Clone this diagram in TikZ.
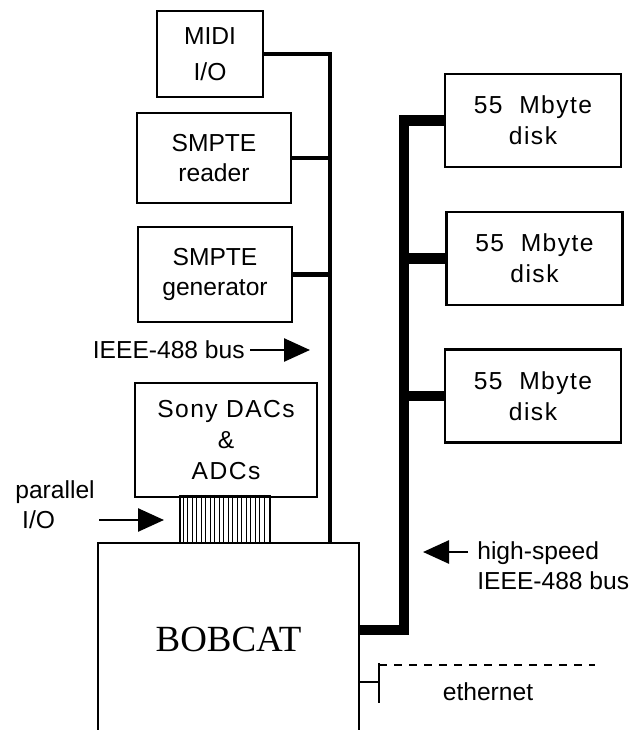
\documentclass[tikz,border=0pt]{standalone}
\usepackage{fontspec}
\setmainfont{Liberation Sans}
\newfontfamily\widesans[LetterSpace=6]{Liberation Sans}
\newfontfamily\timesfont{Liberation Serif}
\usetikzlibrary{positioning, arrows.meta, calc}

\begin{document}
\begin{tikzpicture}[
    box/.style={draw, line width=1.3pt, align=center, inner sep=0pt,
      font=\fontsize{14}{17}\selectfont},
    widebox/.style={box, font=\widesans\fontsize{14}{17.6}\selectfont},
    disk/.style={widebox, minimum width=3.52cm, minimum height=1.86cm},
    bus/.style={line width=2.3pt},
    fastbus/.style={line width=6.2pt},
    stripe/.style={line width=0.5pt},
    pointer/.style={-{Triangle[length=0.52cm, width=0.46cm]}, line width=1.5pt},
    lbl/.style={font=\fontsize{14}{17}\selectfont, align=left, inner sep=0pt}]
  \useasboundingbox (0,0) rectangle (12.68,-14.6);

  % devices on the IEEE-488 bus
  \node[box, minimum width=2.12cm, minimum height=1.72cm] (midi) at (4.2,-1.08) {MIDI\\[0.12cm]I/O};
  \node[box, minimum width=3.08cm, minimum height=1.8cm] (reader) at (4.28,-3.16) {SMPTE\\reader};
  \node[box, minimum width=3.08cm, minimum height=1.9cm] (generator) at (4.3,-5.49) {SMPTE\\generator};
  \node[widebox, minimum width=3.64cm, minimum height=2.28cm] (sony) at (4.52,-8.8) {Sony\ DACs\\\&\\ADCs};

  % the computer, cut off at the bottom
  \coordinate (bob-sw) at (1.96,-14.6);
  \coordinate (bob-ne) at (7.18,-10.86);
  \coordinate (bob-se) at (7.18,-14.6);
  \draw[line width=1.3pt] (bob-sw) |- (bob-ne) -- (bob-se);
  \node[font=\timesfont\fontsize{21}{24}\selectfont] (bobcat) at (4.57,-12.78) {BOBCAT};

  % ribbon cable
  \node[draw, line width=1.3pt, minimum width=1.8cm, minimum height=0.94cm,
        inner sep=0pt] (cable) at (4.5,-10.39) {};
  \foreach \i in {1,...,19}
    \draw[stripe] ($(cable.north west)+(\i*0.09,0)$) -- ($(cable.south west)+(\i*0.09,0)$);

  % disks
  \node[disk] (disk1) at (10.66,-2.41) {55\ \ Mbyte\\disk};
  \node[disk] (disk2) at (10.69,-5.17) {55\ \ Mbyte\\disk};
  \node[disk] (disk3) at (10.66,-7.92) {55\ \ Mbyte\\disk};

  % IEEE-488 bus
  \coordinate (busend) at (6.6,-10.86);
  \draw[bus] (midi.east) -| (busend);
  \draw[bus] (reader.east) -- (reader.east -| busend);
  \draw[bus] (generator.east) -- (generator.east -| busend);

  % high-speed bus
  \coordinate (hs-corner) at (8.08,-12.6);
  \coordinate (hs-end) at (7.18,-12.6);
  \draw[fastbus] (disk1.west) -| (hs-corner) -- (hs-end);
  \draw[fastbus] (disk2.west) -- (disk2.west -| hs-corner);
  \draw[fastbus] (disk3.west) -- (disk3.west -| hs-corner);

  % ethernet tap
  \coordinate (eth-tap) at (7.18,-13.64);
  \coordinate (eth-top) at (7.58,-13.26);
  \coordinate (eth-bot) at (7.58,-14.06);
  \coordinate (eth-end) at (11.9,-13.3);
  \draw[line width=1.3pt] (eth-tap) -- (eth-tap -| eth-top);
  \draw[line width=1.3pt] (eth-top) -- (eth-bot);
  \draw[line width=1.3pt, dash pattern=on 0.16cm off 0.14cm] (eth-top |- eth-end) -- (eth-end);
  \node[lbl] (ethlbl) at (9.76,-13.84) {ethernet};

  % labels and arrows
  \node[lbl, anchor=east] (buslbl) at (4.9,-7.0) {IEEE-488 bus};
  \coordinate (bus-tail) at (5.0,-7.0);
  \coordinate (bus-tip) at (6.2,-7.0);
  \draw[pointer] (bus-tail) -- (bus-tip);

  \node[lbl, anchor=west] (parlbl) at (0.3,-10.1) {parallel\\\ I/O};
  \coordinate (par-tail) at (1.98,-10.4);
  \coordinate (par-tip) at (3.28,-10.4);
  \draw[pointer] (par-tail) -- (par-tip);

  \node[lbl, anchor=west] (hslbl) at (9.54,-11.32) {high-speed\\IEEE-488 bus};
  \coordinate (hs-tail) at (9.36,-11.04);
  \coordinate (hs-tip) at (8.46,-11.04);
  \draw[pointer] (hs-tail) -- (hs-tip);
\end{tikzpicture}
\end{document}
